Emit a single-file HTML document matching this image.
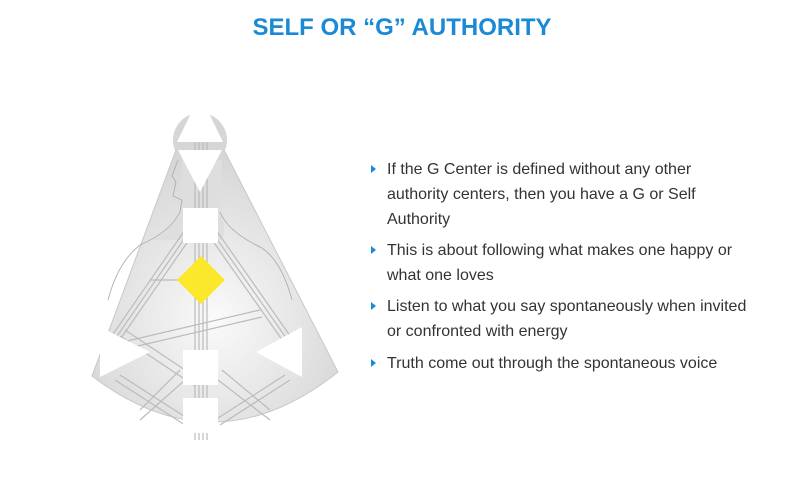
<!DOCTYPE html>
<html><head><style>
body{margin:0;width:787px;height:487px;background:#fff;position:relative;overflow:hidden;font-family:"Liberation Sans",sans-serif}
h1{position:absolute;left:0;width:804px;top:14px;margin:0;text-align:center;font-size:24px;font-weight:bold;color:#1b8ad6}
.b{position:absolute;left:387px;font-size:16px;color:#333;line-height:25px;white-space:nowrap}
.b:before{content:"";position:absolute;left:-16px;top:8px;border-left:5px solid #1b8ad6;border-top:4px solid transparent;border-bottom:4px solid transparent}
</style></head><body>
<h1>SELF OR “G” AUTHORITY</h1>
<svg width="787" height="487" style="position:absolute;left:0;top:0">
<defs><radialGradient id="g" cx="0.5" cy="0.62" r="0.6"><stop offset="0" stop-color="#fafafa"/><stop offset="1" stop-color="#d6d6d6"/></radialGradient></defs>
<path d="M176,150 L92,376 Q215,470 338,372 L224,150 Z" fill="url(#g)" stroke="#c8c8c8"/>
<path d="M182,160 L180,212 Q170,232 150,240 L220,240 Q228,232 220,212 L222,160Z" fill="#dedede"/>
<circle cx="200" cy="140" r="27" fill="#d6d6d6"/>
<path d="M178,160 L172,176 L176,182 L173,196 L182,200 L180,212 Q170,232 140,245 Q118,262 108,300" fill="none" stroke="#aaa" stroke-width="0.8"/>
<path d="M220,212 Q228,232 262,248 Q282,262 292,300" fill="none" stroke="#aaa" stroke-width="0.8"/>
<g stroke="#bbb" stroke-width="1.2" fill="none">
<path d="M195,140V440M199,140V440M203,140V440M207,140V440"/>
<path d="M185,230L102,350M189,232L106,352M193,234L110,354"/>
<path d="M216,230L300,350M212,232L296,352M208,234L292,354"/>
<path d="M140,420L185,380M140,410L180,370M270,420L218,380M270,410L222,370"/>
<path d="M110,345L260,310M112,352L262,317M125,330L200,380M120,336L195,386"/>
<path d="M120,375L190,420M115,380L185,425M285,375L215,420M290,380L220,425"/>
<path d="M150,280H185"/>
</g>
<polygon points="200,95 223,142 177,142" fill="#fff"/>
<polygon points="178,150 222,150 200,192" fill="#fff"/>
<rect x="183" y="208" width="35" height="35" fill="#fff"/>
<rect x="183" y="350" width="35" height="35" fill="#fff"/>
<rect x="183" y="398" width="35" height="35" fill="#fff"/>
<polygon points="100,327 150,352 100,377" fill="#fff"/>
<polygon points="302,327 256,352 302,377" fill="#fff"/>
<polygon points="201,256 225,280 201,304 177,280" fill="#fce82a"/>
</svg>
<div class="b" style="top:157px">If the G Center is defined without any other<br>authority centers, then you have a G or Self<br>Authority</div>
<div class="b" style="top:238px">This is about following what makes one happy or<br>what one loves</div>
<div class="b" style="top:294px">Listen to what you say spontaneously when invited<br>or confronted with energy</div>
<div class="b" style="top:351px">Truth come out through the spontaneous voice</div>
</body></html>
